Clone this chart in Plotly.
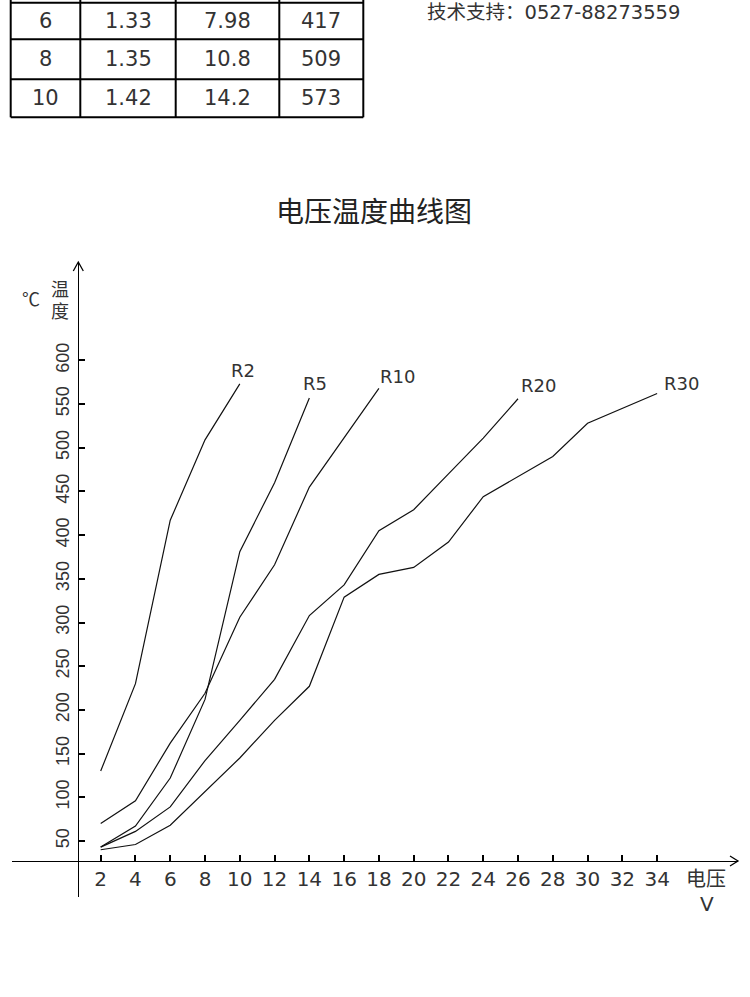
import plotly.graph_objects as go

W, H = 750, 997

# ---- data -------------------------------------------------------------
# table rows still visible at the top of the page (the upper rows are cut off)
tbl_volt = ["6", "8", "10"]
tbl_col2 = ["1.33", "1.35", "1.42"]
tbl_col3 = ["7.98", "10.8", "14.2"]
tbl_temp = ["417", "509", "573"]

support_text = "技术支持：0527-88273559"
title_text = "电压温度曲线图"

series_names = ["R2", "R5", "R10", "R20", "R30"]
volt_r2 = [2, 4, 6, 8, 10]
temp_r2 = [130, 230, 417, 509, 573]
volt_r5 = [2, 4, 6, 8, 10, 12, 14]
temp_r5 = [43, 67, 122, 212, 381, 460, 557]
volt_r10 = [2, 4, 6, 8, 10, 12, 14, 16, 18]
temp_r10 = [70, 96, 162, 219, 306, 366, 455, 511, 568]
volt_r20 = [2, 4, 6, 8, 10, 12, 14, 16, 18, 20, 22, 24, 26]
temp_r20 = [43, 61, 89, 142, 188, 235, 308, 343, 405, 429, 470, 511, 556]
volt_r30 = [2, 4, 6, 8, 10, 12, 14, 16, 18, 20, 22, 24, 26, 28, 30, 32, 34]
temp_r30 = [40, 46, 68, 106, 145, 188, 227, 329, 355, 363, 392, 444, 467, 490, 528, 545, 562]

x_ticks = [2, 4, 6, 8, 10, 12, 14, 16, 18, 20, 22, 24, 26, 28, 30, 32, 34]
y_ticks = [50, 100, 150, 200, 250, 300, 350, 400, 450, 500, 550, 600]

# ---- layout helpers (pixel -> paper, margins are zero) ----------------
def fx(px):
    return px / W


def fy(py):
    return 1 - py / H


PLOT_L, PLOT_R, PLOT_T, PLOT_B = 12, 738, 262, 897
Y_AXIS_X, X_AXIS_Y = 78.3, 861
INK = "#333"
DIGIT_FONT = "DejaVu Sans, Noto Sans CJK SC"
CJK_FONT = "Noto Sans CJK SC"

# label offsets from the last point of each curve (pixels)
label_shift = [(3, 13), (6, 14), (19, 12), (20, 13), (24, 10)]

fig = go.Figure()
all_series = [(volt_r2, temp_r2), (volt_r5, temp_r5), (volt_r10, temp_r10),
              (volt_r20, temp_r20), (volt_r30, temp_r30)]
annotations = []
for name, (vx, ty), (dx, dy) in zip(series_names, all_series, label_shift):
    fig.add_trace(go.Scatter(x=vx, y=ty, mode="lines", name=name,
                             line=dict(color="#111", width=1.2),
                             hoverinfo="x+y+name"))
    annotations.append(dict(x=vx[-1], y=ty[-1], xref="x", yref="y", text=name,
                            showarrow=False, xshift=dx, yshift=dy,
                            xanchor="center", yanchor="middle",
                            font=dict(family=DIGIT_FONT, size=18, color=INK)))


def txt(text, px, py, size, family=CJK_FONT, color=INK, yanchor="middle", height=None):
    a = dict(x=fx(px), y=fy(py), xref="paper", yref="paper", text=text,
             showarrow=False, xanchor="center", yanchor=yanchor, borderpad=0,
             font=dict(family=family, size=size, color=color))
    if height:
        a["height"] = height
    return a


# ---- table -------------------------------------------------------------
col_edges = [10.7, 80.3, 175.7, 279.3, 363.3]
row_edges = [2.7, 39.3, 79.3, 117.3]
shapes = []
for ry in row_edges:
    shapes.append(dict(type="line", xref="paper", yref="paper",
                       x0=fx(col_edges[0]), x1=fx(col_edges[-1]), y0=fy(ry), y1=fy(ry),
                       line=dict(color="black", width=2)))
for cx in col_edges:
    shapes.append(dict(type="line", xref="paper", yref="paper",
                       x0=fx(cx), x1=fx(cx), y0=fy(0), y1=fy(row_edges[-1]),
                       line=dict(color="black", width=2)))
columns = [tbl_volt, tbl_col2, tbl_col3, tbl_temp]
for ci, col in enumerate(columns):
    cxm = (col_edges[ci] + col_edges[ci + 1]) / 2
    for ri, val in enumerate(col):
        rym = (row_edges[ri] + row_edges[ri + 1]) / 2
        annotations.append(txt(val, cxm, rym, 21, family=DIGIT_FONT))

# ---- free texts --------------------------------------------------------
annotations += [
    txt(support_text, 553, 0, 19.5, family=DIGIT_FONT, yanchor="top"),
    txt(title_text, 374, 210, 28, color="#222"),
    txt("电压", 706, 877, 20),
    txt("V", 707, 904, 20, family=DIGIT_FONT),
    txt("℃", 31, 298, 18),
    txt("温", 60, 287, 18, height=21),
    txt("度", 60, 310, 18, height=21),
]

# axis arrow heads
shapes += [
    dict(type="path", xref="paper", yref="paper", xsizemode="pixel", ysizemode="pixel",
         xanchor=fx(PLOT_R), yanchor=fy(X_AXIS_Y), path="M -8,5 L 0,0 L -8,-5",
         line=dict(color="black", width=1.3)),
    dict(type="path", xref="paper", yref="paper", xsizemode="pixel", ysizemode="pixel",
         xanchor=fx(Y_AXIS_X), yanchor=fy(PLOT_T), path="M -5,-9 L 0,0 L 5,-9",
         line=dict(color="black", width=1.3)),
]

fig.update_layout(
    width=W, height=H,
    margin=dict(l=0, r=0, t=0, b=0),
    paper_bgcolor="white", plot_bgcolor="white",
    showlegend=False,
    xaxis=dict(domain=[fx(PLOT_L), fx(PLOT_R)], range=[-3.10, 38.65],
               anchor="free", position=fy(X_AXIS_Y),
               showline=True, linecolor="black", linewidth=1.3,
               ticks="inside", ticklen=6, tickwidth=1.5, tickcolor="black",
               tickvals=x_ticks, ticklabelstandoff=0,
               tickfont=dict(family=DIGIT_FONT, size=20, color=INK),
               showgrid=False, zeroline=False),
    yaxis=dict(domain=[fy(PLOT_B), fy(PLOT_T)], range=[-14.1, 712.5],
               anchor="free", position=fx(Y_AXIS_X),
               showline=True, linecolor="black", linewidth=1.3,
               ticks="inside", ticklen=6, tickwidth=1.5, tickcolor="black",
               tickvals=y_ticks, tickangle=-90, ticklabelstandoff=2,
               tickfont=dict(family="Liberation Sans", size=18, color=INK),
               showgrid=False, zeroline=False),
    annotations=annotations,
    shapes=shapes,
)

# the page's default body margin would shift the whole figure by 8px
fig.write_html("out.html", config={"displayModeBar": False},
               post_script="document.body.style.margin='0';")
